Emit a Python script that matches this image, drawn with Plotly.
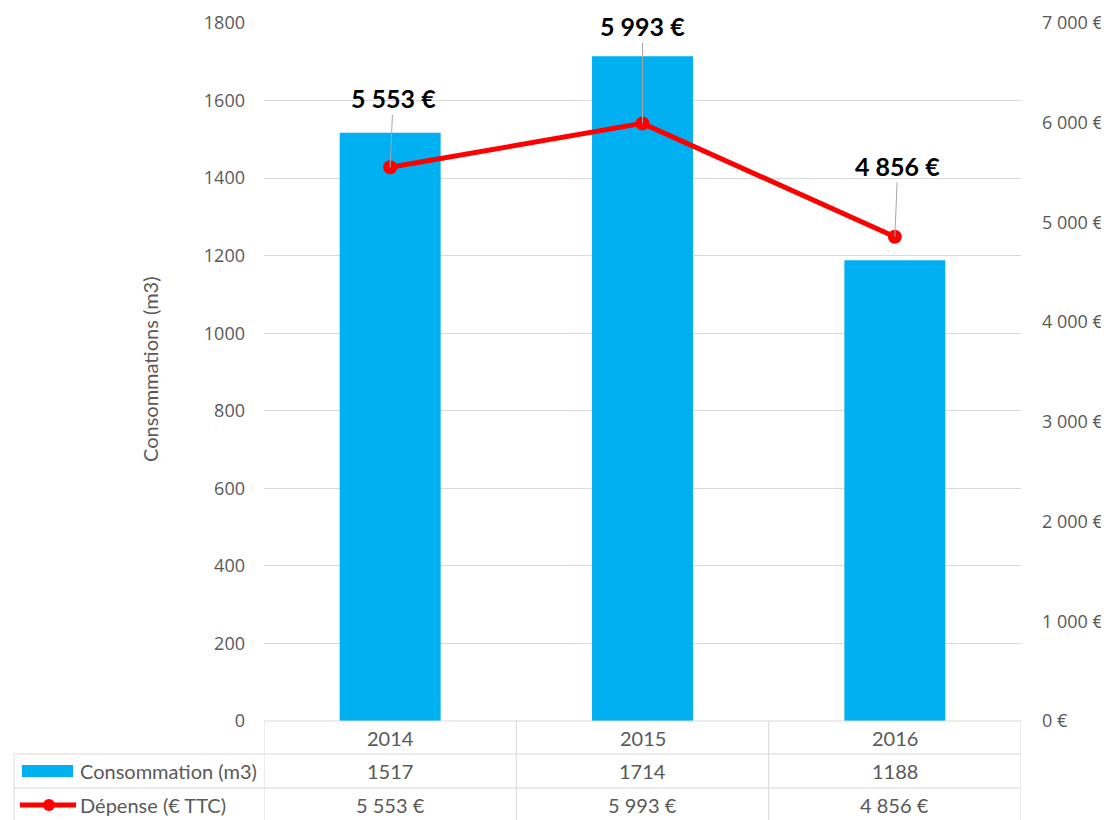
import plotly.graph_objects as go

years = ["2014", "2015", "2016"]
consommation = [1517, 1714, 1188]
depense = [5553, 5993, 4856]
left_ticks = [0, 200, 400, 600, 800, 1000, 1200, 1400, 1600, 1800]
right_ticks = [0, 1000, 2000, 3000, 4000, 5000, 6000, 7000]

def eur(v):
    return f"{v:,}".replace(",", " ") + " €"

# page offset from default body margin
OFF = 8
W, H = 1109 - OFF, 820 - OFF
L, R, T, B = 264, 1021, 23, 721   # plot area in page pixels
PW, PH = R - L, B - T

def px(xp):
    return (xp - L) / PW

def py(yp):
    return (B - yp) / PH

BLUE = "#00B0F0"
RED = "#FF0000"
GRID = "#D9D9D9"
TXT = "#595959"
CAL = "Lato, Carlito, sans-serif"
TICKF = "Open Sans, sans-serif"

xi = list(range(len(years)))

fig = go.Figure()
fig.add_trace(go.Bar(x=xi, y=consommation, marker=dict(color=BLUE, line=dict(width=0)),
                     width=0.4, name="Consommation (m3)", yaxis="y"))
fig.add_trace(go.Scatter(x=xi, y=depense, mode="lines+markers", yaxis="y2",
                         line=dict(color=RED, width=5), marker=dict(color=RED, size=14),
                         name="Dépense (€ TTC)"))

shapes = []
ann = []
line = dict(color=GRID, width=1)
for b in [-0.5, 0.5, 1.5, 2.5]:
    shapes.append(dict(type="line", xref="x", yref="paper", x0=b, x1=b, y0=py(721), y1=py(822), line=line))
shapes.append(dict(type="line", xref="paper", yref="paper", x0=px(14), x1=px(14), y0=py(754), y1=py(822), line=line))
shapes.append(dict(type="line", xref="x", yref="paper", x0=-0.5, x1=2.5, y0=py(721), y1=py(721), line=line))
for yy in [754, 788]:
    shapes.append(dict(type="line", xref="paper", yref="paper", x0=px(14), x1=px(1021), y0=py(yy), y1=py(yy), line=line))
shapes.append(dict(type="rect", xref="paper", yref="paper", x0=px(22), x1=px(73), y0=py(777), y1=py(765),
                   fillcolor=BLUE, line=dict(width=0)))
shapes.append(dict(type="line", xref="paper", yref="paper", x0=px(20), x1=px(76), y0=py(805), y1=py(805),
                   line=dict(color=RED, width=5)))
shapes.append(dict(type="circle", xref="paper", yref="paper", x0=px(43), x1=px(55), y0=py(811), y1=py(799),
                   fillcolor=RED, line=dict(width=0)))

tf = dict(family=CAL, size=20, color=TXT)
for i in xi:
    ann.append(dict(x=i, y=py(738), xref="x", yref="paper", text=years[i], showarrow=False, font=tf,
                    xanchor="center", yanchor="middle"))
    ann.append(dict(x=i, y=py(771), xref="x", yref="paper", text=str(consommation[i]), showarrow=False, font=tf,
                    xanchor="center", yanchor="middle"))
    ann.append(dict(x=i, y=py(805), xref="x", yref="paper", text=eur(depense[i]), showarrow=False, font=tf,
                    xanchor="center", yanchor="middle"))
ann.append(dict(x=px(78), y=py(771), xref="paper", yref="paper", text="Consommation (m3)", showarrow=False,
                xanchor="left", yanchor="middle", font=tf))
ann.append(dict(x=px(78), y=py(805), xref="paper", yref="paper", text="Dépense (€ TTC)", showarrow=False,
                xanchor="left", yanchor="middle", font=tf))

offsets = [(3, -69), (0, -97), (3, -71)]
for i in xi:
    ox, oy = offsets[i]
    ann.append(dict(x=i, y=depense[i], xref="x", yref="y2", text=f"<b>{eur(depense[i])}</b>",
                    showarrow=True, arrowhead=0, arrowwidth=1, arrowcolor="#A6A6A6", ax=ox, ay=oy,
                    font=dict(family=CAL, size=25, color="#000000"), borderpad=1))

ann.append(dict(x=px(150), y=py(369), xref="paper", yref="paper", text="Consommations (m3)", showarrow=False,
                xanchor="center", yanchor="middle", textangle=-90, font=dict(family=CAL, size=20, color=TXT)))

fig.update_layout(
    width=W, height=H,
    margin=dict(l=L - OFF, r=1109 - R, t=T - OFF, b=820 - B, autoexpand=False),
    plot_bgcolor="white", paper_bgcolor="white",
    showlegend=False, bargap=0.6,
    xaxis=dict(range=[-0.5, 2.5], showticklabels=False, showgrid=False, zeroline=False, showline=False,
               automargin=False),
    yaxis=dict(range=[0, 1800], tickvals=left_ticks, showgrid=True, gridcolor=GRID, gridwidth=1,
               zeroline=False, showline=False, ticks="", ticklabelstandoff=18, automargin=False,
               tickfont=dict(family=TICKF, size=18, color=TXT)),
    yaxis2=dict(range=[0, 7000], tickvals=right_ticks, ticktext=[eur(v) for v in right_ticks],
                overlaying="y", side="right", showgrid=False, zeroline=False, showline=False, ticks="",
                ticklabelstandoff=20, automargin=False, tickfont=dict(family=TICKF, size=18, color=TXT)),
    shapes=shapes, annotations=ann,
)

fig.write_html("out.html")
